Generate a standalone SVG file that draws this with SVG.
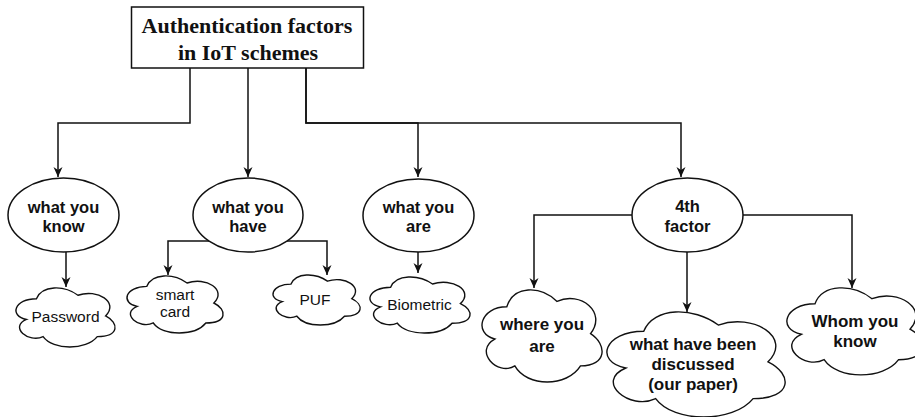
<svg xmlns="http://www.w3.org/2000/svg" xmlns:xlink="http://www.w3.org/1999/xlink" width="915" height="417" viewBox="0 0 915 417">
<style>
.box{fill:#fff;stroke:#111;stroke-width:1.5}
.ell{fill:#fff;stroke:#111;stroke-width:1.5}
.cl{fill:#fff;stroke:#111;stroke-width:1.4;vector-effect:non-scaling-stroke}
.edge{fill:none;stroke:#111;stroke-width:1.5}
.title{font-family:"Liberation Serif","Times New Roman",serif;font-weight:bold;font-size:22px;fill:#111;text-anchor:middle}
.et{font-family:"Liberation Sans",Arial,sans-serif;font-weight:bold;font-size:16.5px;fill:#111;text-anchor:middle}
.ct{font-family:"Liberation Sans",Arial,sans-serif;font-size:15.5px;fill:#111;text-anchor:middle}
.bt{font-family:"Liberation Sans",Arial,sans-serif;font-weight:bold;font-size:17px;fill:#111;text-anchor:middle}
</style>
<defs>
<marker id="arr" viewBox="0 0 10 10" refX="10" refY="5" markerWidth="10" markerHeight="10" markerUnits="userSpaceOnUse" orient="auto">
<path d="M0,0.5 L10,5 L0,9.5 L3,5 Z" fill="#111"/>
</marker>
<path id="cloud" class="cl" d="M25,25 C5,25 0,50 16,55 C0,66 18,90 31,80 C40,100 70,100 80,80 C100,80 100,60 87.5,50 C100,30 80,10 62.5,20 C50,5 30,5 25,25 Z"/>
</defs>
<rect width="915" height="417" fill="#fff"/>
<g id="connectors">
<path class="edge" d="M190,68 V123 H58 V177" marker-end="url(#arr)"/>
<path class="edge" d="M248,68 V177" marker-end="url(#arr)"/>
<path class="edge" d="M306,68 V123 H418 V177" marker-end="url(#arr)"/>
<path class="edge" d="M306,68 V123 H681 V177" marker-end="url(#arr)"/>
<path class="edge" d="M66,252 V287" marker-end="url(#arr)"/>
<path class="edge" d="M209,241 H168 V275" marker-end="url(#arr)"/>
<path class="edge" d="M287,241 H327 V275" marker-end="url(#arr)"/>
<path class="edge" d="M418,252 V273" marker-end="url(#arr)"/>
<path class="edge" d="M632,215 H534 V288" marker-end="url(#arr)"/>
<path class="edge" d="M687,252 V312" marker-end="url(#arr)"/>
<path class="edge" d="M743,215 H852 V288" marker-end="url(#arr)"/>
</g>
<g id="root">
<rect class="box" x="131.5" y="7" width="232" height="61"/>
<text class="title" x="247" y="33">Authentication factors</text>
<text class="title" x="248" y="60">in IoT schemes</text>
</g>
<g id="know">
<ellipse class="ell" cx="63.5" cy="215" rx="55.5" ry="37"/>
<text class="et" x="63.5" y="212.5">what you</text>
<text class="et" x="63.5" y="232">know</text>
</g>
<g id="have">
<ellipse class="ell" cx="248" cy="215" rx="55" ry="37"/>
<text class="et" x="248" y="212.5">what you</text>
<text class="et" x="248" y="232">have</text>
</g>
<g id="are">
<ellipse class="ell" cx="418.5" cy="215.5" rx="55.5" ry="36.5"/>
<text class="et" x="418.5" y="212.5">what you</text>
<text class="et" x="418.5" y="232">are</text>
</g>
<g id="fourth">
<ellipse class="ell" cx="687.5" cy="215" rx="55.5" ry="37"/>
<text class="et" x="687.5" y="211.5">4th</text>
<text class="et" x="687.5" y="231.5">factor</text>
</g>
<g id="password">
<use xlink:href="#cloud" href="#cloud" transform="translate(8.8,281.5) scale(1.106,0.689)"/>
<text class="ct" x="65.5" y="322">Password</text>
</g>
<g id="smartcard">
<use xlink:href="#cloud" href="#cloud" transform="translate(120,269.7) scale(1.073,0.666)"/>
<text class="ct" x="175" y="300">smart</text>
<text class="ct" x="175" y="317">card</text>
</g>
<g id="puf">
<use xlink:href="#cloud" href="#cloud" transform="translate(266.7,269.5) scale(0.972,0.584)"/>
<text class="ct" x="315" y="305">PUF</text>
</g>
<g id="biometric">
<use xlink:href="#cloud" href="#cloud" transform="translate(362.7,270.9) scale(1.117,0.654)"/>
<text class="ct" x="419.5" y="310">Biometric</text>
</g>
<g id="where">
<use xlink:href="#cloud" href="#cloud" transform="translate(473.3,279.9) scale(1.34,1.075)"/>
<text class="bt" x="542" y="330">where you</text>
<text class="bt" x="542" y="351.5">are</text>
</g>
<g id="discussed">
<use xlink:href="#cloud" href="#cloud" transform="translate(594,300.5) scale(1.989,1.227)"/>
<text class="bt" x="693" y="350">what have been</text>
<text class="bt" x="693" y="370">discussed</text>
<text class="bt" x="693" y="390">(our paper)</text>
</g>
<g id="whom">
<use xlink:href="#cloud" href="#cloud" transform="translate(777,278.4) scale(1.52,1.016)"/>
<text class="bt" x="855" y="326.5">Whom you</text>
<text class="bt" x="855" y="346.5">know</text>
</g>
</svg>
